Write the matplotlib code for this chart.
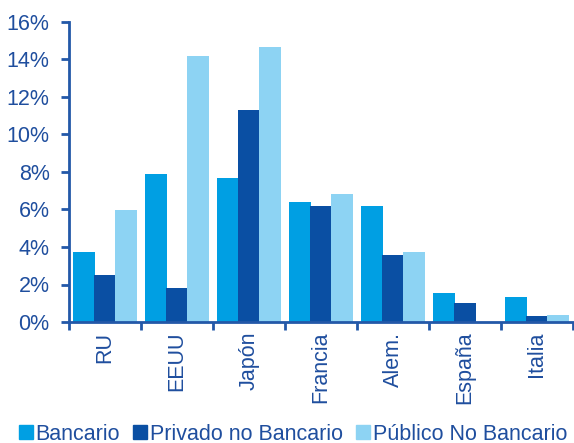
import matplotlib
matplotlib.use("Agg")
import matplotlib.pyplot as plt
from matplotlib.ticker import FuncFormatter
from matplotlib.lines import Line2D
import numpy as np

categories = ["RU", "EEUU", "Japón", "Francia", "Alem.", "España", "Italia"]
bancario = [3.75, 7.9, 7.7, 6.4, 6.2, 1.55, 1.33]
privado = [2.5, 1.8, 11.3, 6.2, 3.55, 1.0, 0.3]
publico = [5.95, 14.2, 14.65, 6.85, 3.72, 0.0, 0.37]
series_names = ["Bancario", "Privado no Bancario", "Público No Bancario"]
colors = ["#009FE3", "#0A4FA3", "#8DD3F3"]
text_color = "#1F4E9E"
axis_color = "#2358A8"

plt.rcParams['font.family'] = ['Liberation Sans', 'DejaVu Sans']

fig = plt.figure(figsize=(5.74, 4.43), dpi=100)
ax = fig.add_axes([69/574, (443-322)/443, (573-69)/574, 300/443])

x = np.arange(len(categories))
w = 0.30
off = 0.29
for vals, o, c in zip([bancario, privado, publico], [-off, 0, off], colors):
    ax.bar(x + o, vals, width=w, color=c, linewidth=0)

ax.set_xlim(-0.5, len(categories) - 0.5)
ax.set_ylim(0, 16)
ax.set_yticks(np.arange(0, 17, 2))
ax.yaxis.set_major_formatter(FuncFormatter(lambda v, p: f"{v:.0f}%"))

ax.set_xticks(np.arange(-0.5, len(categories), 1.0))
ax.set_xticklabels([])
ax.set_xticks(x, minor=True)
ax.set_xticklabels(categories, minor=True, rotation=90, va='top', ha='center')
ax.tick_params(axis='x', which='minor', length=0, pad=7, labelsize=15.5, colors=text_color)
ax.tick_params(axis='x', which='major', length=6, width=2, color=axis_color, direction='out')
ax.tick_params(axis='y', which='major', length=6, width=2, color=axis_color, labelsize=15.5,
               labelcolor=text_color, pad=8)

for s in ['top', 'right']:
    ax.spines[s].set_visible(False)
for s in ['left', 'bottom']:
    ax.spines[s].set_color(axis_color)
    ax.spines[s].set_linewidth(2)

handles = [Line2D([0], [0], marker='s', linestyle='none', markersize=10,
                  markerfacecolor=c, markeredgecolor=c) for c in colors]
leg = fig.legend(handles, series_names, loc='center', bbox_to_anchor=(0.51, 1 - 434/443),
                 ncol=3, frameon=False, fontsize=15.5, handletextpad=0.1,
                 columnspacing=0.6, handlelength=0.7, borderaxespad=0, borderpad=0)
for t in leg.get_texts():
    t.set_color(text_color)

fig.savefig("out.png", dpi=100)
